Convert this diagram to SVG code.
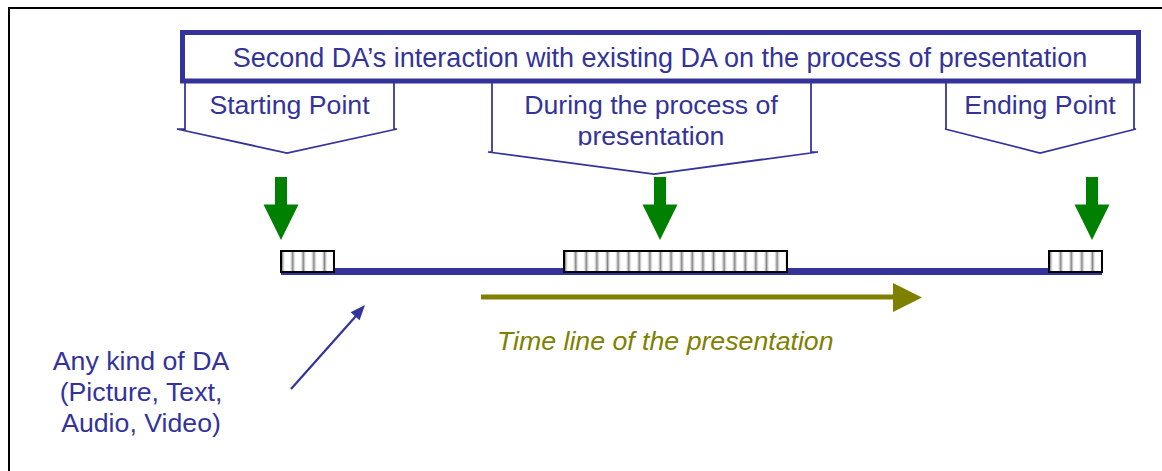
<svg xmlns="http://www.w3.org/2000/svg" width="1162" height="471" viewBox="0 0 1162 471">
  <style>
    .txt { font-family: "Liberation Sans", Arial, sans-serif; font-size: 26.7px; fill: #333399; text-anchor: middle; }
    .title { font-size: 27px; }
    .olive { font-family: "Liberation Sans", Arial, sans-serif; font-size: 26.7px; fill: #808000; font-style: italic; }
    .callout { fill: #ffffff; stroke: #333399; stroke-width: 1.75; stroke-linejoin: miter; }
    .green { fill: #008000; }
    .bar { fill: url(#stripes); stroke: #000000; stroke-width: 2; }
  </style>
  <defs>
    <linearGradient id="stripeGrad" x1="0" y1="0" x2="1" y2="0">
      <stop offset="0" stop-color="#ffffff"/>
      <stop offset="0.25" stop-color="#dcdcdc"/>
      <stop offset="0.5" stop-color="#858585"/>
      <stop offset="0.75" stop-color="#dcdcdc"/>
      <stop offset="1" stop-color="#ffffff"/>
    </linearGradient>
    <pattern id="stripes" patternUnits="userSpaceOnUse" x="6.4" y="0" width="10.6" height="30">
      <rect x="0" y="0" width="10.6" height="30" fill="#ffffff"/>
      <rect x="2.3" y="0" width="6" height="30" fill="url(#stripeGrad)"/>
    </pattern>
    <path id="greenArrow" d="M-6,0 L6,0 L6,27.5 L17.5,27.5 L0,63 L-17.5,27.5 L-6,27.5 Z"/>
    <clipPath id="duringClip">
      <rect x="492" y="83" width="319" height="62.5"/>
    </clipPath>
  </defs>

  <rect x="0" y="0" width="1162" height="471" fill="#ffffff"/>
  <rect id="frame" x="9" y="8" width="1170" height="480" fill="none" stroke="#000000" stroke-width="2"/>

  <g id="starting-point">
    <path class="callout" d="M185,80 L185,129 L177,129 L287,153 L397,129 L394,129 L394,80"/>
    <text class="txt" x="289.5" y="114">Starting Point</text>
  </g>

  <g id="during-process">
    <path class="callout" d="M492,80 L492,152 L488,152 L654,174 L818,152 L811,152 L811,80"/>
    <text class="txt" x="651" y="114">During the process of</text>
    <text class="txt" x="651" y="145" clip-path="url(#duringClip)">presentation</text>
  </g>

  <g id="ending-point">
    <path class="callout" d="M946,80 L946,129 L945,129 L1040,153 L1136,129 L1134,129 L1134,80"/>
    <text class="txt" x="1040" y="114">Ending Point</text>
  </g>

  <g id="title">
    <rect x="182.5" y="32.5" width="956" height="48.5" fill="#ffffff" stroke="#333399" stroke-width="5"/>
    <text class="txt title" x="660" y="67">Second DA’s interaction with existing DA on the process of presentation</text>
  </g>

  <g id="connectors">
    <use href="#greenArrow" class="green" transform="translate(281,177)"/>
    <use href="#greenArrow" class="green" transform="translate(660,177)"/>
    <use href="#greenArrow" class="green" transform="translate(1092,177)"/>
    <line x1="291" y1="389" x2="356" y2="316" stroke="#333399" stroke-width="2.2"/>
    <polygon points="365,305 359.6,320.2 350.6,312.3" fill="#333399"/>
    <line x1="481" y1="297" x2="895" y2="297" stroke="#808000" stroke-width="5"/>
    <polygon points="893,283 922,297.5 893,312" fill="#808000"/>
  </g>

  <g id="timeline">
    <line x1="281" y1="271.5" x2="1102" y2="271.5" stroke="#333399" stroke-width="7"/>
  </g>

  <g id="bar-start">
    <rect class="bar" x="0" y="0" width="53" height="21" transform="translate(281,251)"/>
  </g>
  <g id="bar-during">
    <rect class="bar" x="0" y="0" width="223" height="21" transform="translate(564,251)"/>
  </g>
  <g id="bar-end">
    <rect class="bar" x="0" y="0" width="53" height="21" transform="translate(1049,251)"/>
  </g>

  <g id="timeline-label">
    <text class="olive" x="497" y="350">Time line of the presentation</text>
  </g>

  <g id="da-label">
    <text class="txt" x="141" y="370">Any kind of DA</text>
    <text class="txt" x="141" y="401">(Picture, Text,</text>
    <text class="txt" x="141" y="432">Audio, Video)</text>
  </g>
</svg>
